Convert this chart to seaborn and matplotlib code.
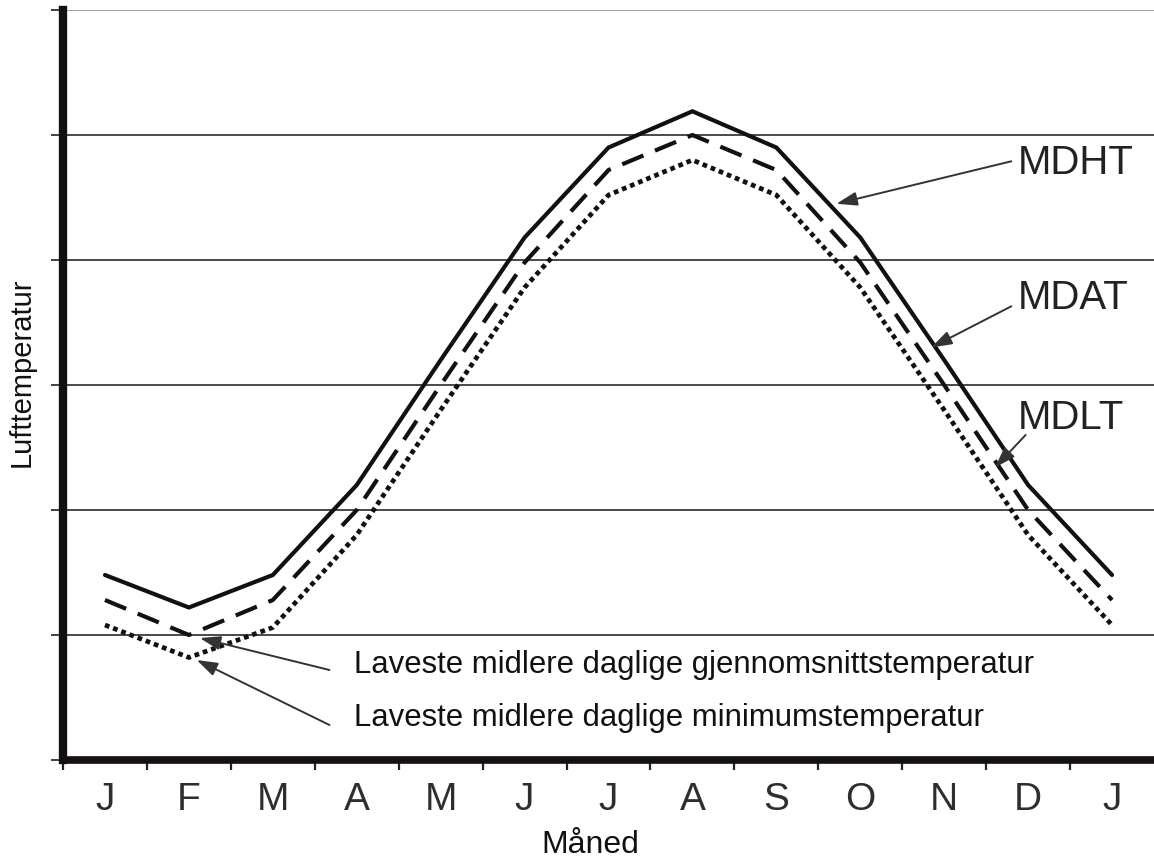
import matplotlib
matplotlib.use("Agg")
import matplotlib.pyplot as plt
import seaborn as sns
import numpy as np
import pandas as pd

# ---- data ----
months = ["J", "F", "M", "A", "M", "J", "J", "A", "S", "O", "N", "D", "J"]
mdht = [1.48, 1.22, 1.48, 2.20, 3.20, 4.18, 4.90, 5.19, 4.90, 4.18, 3.20, 2.20, 1.48]
mdat = [1.28, 1.00, 1.28, 2.00, 3.00, 3.98, 4.72, 5.00, 4.72, 3.98, 3.00, 2.00, 1.28]
mdlt = [1.08, 0.82, 1.06, 1.80, 2.80, 3.78, 4.52, 4.80, 4.52, 3.78, 2.80, 1.80, 1.08]
series_names = ["MDHT", "MDAT", "MDLT"]
y_ticks = [0, 1, 2, 3, 4, 5, 6]

sns.set_style("white")
plt.rcParams["font.family"] = ["Liberation Sans", "DejaVu Sans"]

fig = plt.figure(figsize=(11.54, 8.65), dpi=100)
ax = fig.add_axes([0.0546, 0.1214, 0.9454, 0.867])

xpos = np.arange(len(months)) + 0.5
df = pd.DataFrame({"x": xpos, "MDHT": mdht, "MDAT": mdat, "MDLT": mdlt})

sns.lineplot(data=df, x="x", y="MDHT", ax=ax, color="#111111", linewidth=3.0,
             solid_joinstyle="miter")
sns.lineplot(data=df, x="x", y="MDAT", ax=ax, color="#111111", linewidth=3.0,
             linestyle=(0, (5.5, 3)))
sns.lineplot(data=df, x="x", y="MDLT", ax=ax, color="#111111", linewidth=3.4,
             linestyle=(0, (1.0, 0.85)))

ax.set_xlim(0, 13)
ax.set_ylim(0, 6)

# gridlines
ax.set_yticks(y_ticks)
ax.set_yticklabels([])
ax.yaxis.grid(True, color="#3a3a3a", linewidth=1.3)
ax.xaxis.grid(False)
glines = ax.get_ygridlines()
glines[-1].set_color("#9a9a9a")
glines[0].set_visible(False)
ax.set_axisbelow(True)

# x ticks: boundaries (major) and labels at centers (minor)
ax.set_xticks(np.arange(0, 13))
ax.set_xticklabels([])
ax.set_xticks(xpos, minor=True)
ax.set_xticklabels(months, minor=True, fontsize=28, color="#2e2e2e")
ax.tick_params(axis="x", which="major", direction="out", length=7, width=1.6,
               color="#222222", bottom=True)
ax.tick_params(axis="x", which="minor", length=0, pad=16, bottom=True)
ax.tick_params(axis="y", which="major", direction="out", length=9, width=1.3,
               color="#333333", left=True)

for s in ["top", "right"]:
    ax.spines[s].set_visible(False)
ax.spines["left"].set_linewidth(6.0)
ax.spines["bottom"].set_linewidth(5.5)
ax.spines["left"].set_color("#141010")
ax.spines["bottom"].set_color("#141010")
ax.spines["left"].set_capstyle("projecting")

ax.set_xlabel("Måned", fontsize=23, color="#111111")
ax.set_ylabel("Lufttemperatur", fontsize=21, color="#111111")
ax.xaxis.set_label_coords(0.483, -0.093)
ax.yaxis.set_label_coords(-0.025, 0.517)

# annotations
arrow_kw = dict(arrowstyle="-|>,head_length=0.9,head_width=0.3", color="#333333",
                lw=1.4, mutation_scale=14, shrinkA=0, shrinkB=0)

label_x = 11.38
ax.text(label_x, 4.776, series_names[0], fontsize=29, color="#222222", va="center", ha="left")
ax.text(label_x, 3.696, series_names[1], fontsize=29, color="#222222", va="center", ha="left")
ax.text(label_x, 2.736, series_names[2], fontsize=29, color="#222222", va="center", ha="left")

ax.annotate("", xy=(9.215, 4.45), xytext=(11.30, 4.79), arrowprops=arrow_kw)
ax.annotate("", xy=(10.345, 3.30), xytext=(11.30, 3.63), arrowprops=arrow_kw)
ax.annotate("", xy=(11.106, 2.34), xytext=(11.47, 2.60), arrowprops=arrow_kw)

ax.text(3.47, 0.76, "Laveste midlere daglige gjennomsnittstemperatur", fontsize=22.4,
        color="#111111", va="center", ha="left")
ax.text(3.47, 0.336, "Laveste midlere daglige minimumstemperatur", fontsize=22.4,
        color="#111111", va="center", ha="left")
ax.annotate("", xy=(1.63, 0.976), xytext=(3.175, 0.72), arrowprops=arrow_kw)
ax.annotate("", xy=(1.593, 0.80), xytext=(3.175, 0.28), arrowprops=arrow_kw)

fig.savefig("out.png", dpi=100)
